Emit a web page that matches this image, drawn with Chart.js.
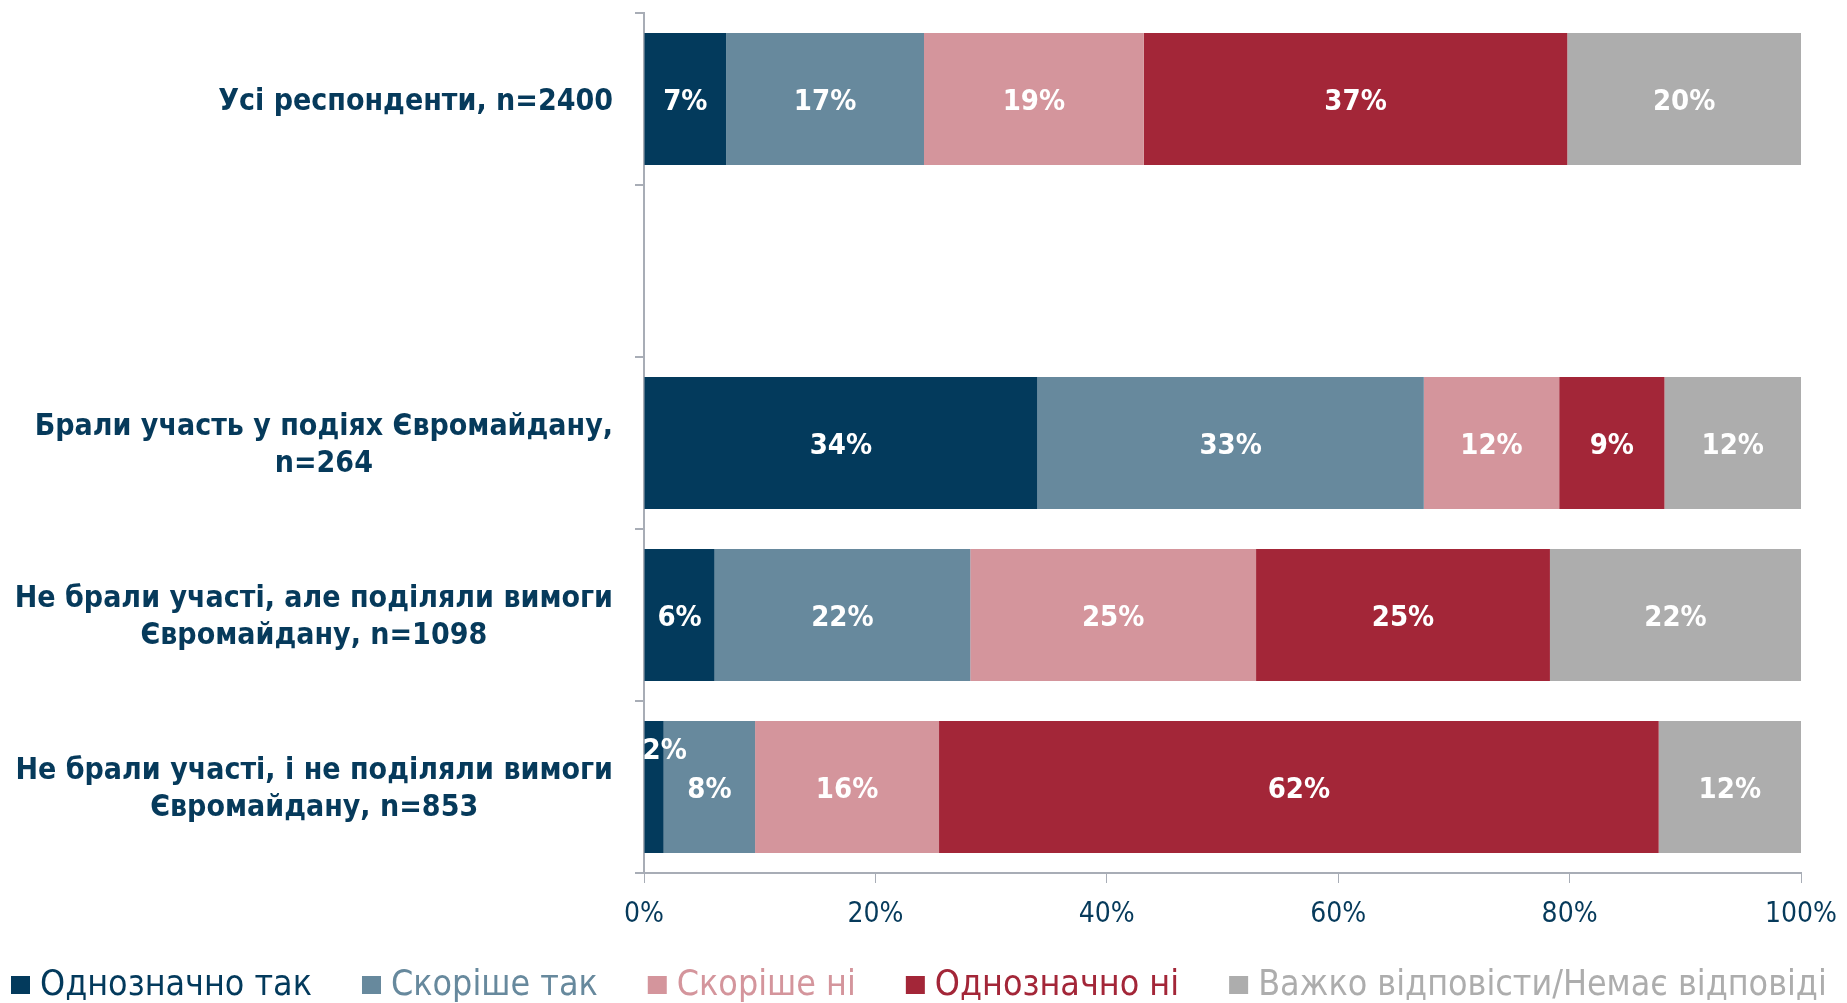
<!DOCTYPE html>
<html lang="uk">
<head>
  <meta charset="UTF-8" />
  <title>Євромайдан — стовпчикова діаграма</title>
  <script src="https://cdn.jsdelivr.net/npm/chart.js"></script>
  <style>
    body {
      margin: 0;
      background: #fff;
    }
    canvas {
      display: block;
    }
  </style>
</head>
<body>
  <canvas id="chart" width="1847" height="1003"></canvas>

  <script>
    // Categories (one empty row keeps the gap after the first bar)
    const categories = [
      ['Усі респонденти, n=2400'],
      [''],
      ['Брали участь у подіях Євромайдану,', 'n=264'],
      ['Не брали участі, але поділяли вимоги', 'Євромайдану, n=1098'],
      ['Не брали участі, і не поділяли вимоги', 'Євромайдану, n=853']
    ];

    const seriesNames = [
      'Однозначно так',
      'Скоріше так',
      'Скоріше ні',
      'Однозначно ні',
      'Важко відповісти/Немає відповіді'
    ];

    const definitelyYes = [7.1, null, 34.0, 6.1, 1.7];
    const ratherYes     = [17.1, null, 33.4, 22.1, 7.9];
    const ratherNo      = [19.0, null, 11.7, 24.7, 15.9];
    const definitelyNo  = [36.6, null, 9.1, 25.4, 62.2];
    const hardToSay     = [20.2, null, 11.8, 21.7, 12.3];

    const xTicks = [0, 20, 40, 60, 80, 100];

    const colors = ['#033a5c', '#67899d', '#d4959c', '#a32638', '#adadad'];
    const textColor = '#063a5b';
    const axisColor = '#a8adb6';

    const seriesValues = [definitelyYes, ratherYes, ratherNo, definitelyNo, hardToSay];

    // Bar value labels; a label wider than its bar goes up, starting at the bar's left edge
    const barLabels = {
      id: 'barLabels',
      afterDatasetsDraw(chart) {
        const ctx = chart.ctx;
        ctx.save();
        ctx.font = 'bold 29px "DejaVu Sans Condensed", "DejaVu Sans", sans-serif';
        ctx.fillStyle = '#fff';
        ctx.textBaseline = 'middle';
        chart.data.datasets.forEach((ds, di) => {
          const meta = chart.getDatasetMeta(di);
          meta.data.forEach((bar, i) => {
            const v = ds.data[i];
            if (v == null) return;
            const text = Math.round(v) + '%';
            const w = Math.abs(bar.x - bar.base);
            const cy = bar.y + 3;
            if (ctx.measureText(text).width > w) {
              ctx.textAlign = 'left';
              ctx.fillText(text, Math.min(bar.x, bar.base) - 2, cy - 39);
            } else {
              ctx.textAlign = 'center';
              ctx.fillText(text, (bar.x + bar.base) / 2, cy);
            }
          });
        });
        ctx.restore();
      }
    };

    // Category labels: block right-aligned to the axis, lines centred in the block
    const categoryLabels = {
      id: 'categoryLabels',
      afterDraw(chart) {
        const ctx = chart.ctx;
        const y = chart.scales.y;
        ctx.save();
        ctx.font = 'bold 30px "DejaVu Sans Condensed", "DejaVu Sans", sans-serif';
        ctx.fillStyle = textColor;
        ctx.textAlign = 'center';
        ctx.textBaseline = 'middle';
        const right = chart.chartArea.left - 31;
        const lineH = 37;
        categories.forEach((lines, i) => {
          const blockW = Math.max(...lines.map(l => ctx.measureText(l).width));
          const cy = y.getPixelForValue(i) + 3;
          const top = cy - (lines.length - 1) * lineH / 2;
          lines.forEach((l, k) => {
            ctx.fillText(l, right - blockW / 2, top + k * lineH);
          });
        });
        ctx.restore();
      }
    };

    // Legend along the bottom, one row, clipped at the canvas edge
    const bottomLegend = {
      id: 'bottomLegend',
      afterDraw(chart) {
        const ctx = chart.ctx;
        ctx.save();
        ctx.font = '35.5px "DejaVu Sans Condensed", "DejaVu Sans", sans-serif';
        ctx.textBaseline = 'middle';
        ctx.textAlign = 'left';
        let x = 11;
        const cy = 985;
        chart.data.datasets.forEach(ds => {
          ctx.fillStyle = ds.backgroundColor;
          ctx.fillRect(x, cy - 9, 19, 18);
          x += 29;
          ctx.fillText(ds.label, x, cy + 1);
          x += ctx.measureText(ds.label).width + 50;
        });
        ctx.restore();
      }
    };

    new Chart(document.getElementById('chart'), {
      type: 'bar',
      data: {
        labels: categories.map(c => c.join(' ')),
        datasets: seriesNames.map((name, i) => ({
          label: name,
          data: seriesValues[i],
          backgroundColor: colors[i],
          borderWidth: 0,
          barPercentage: 0.767,
          categoryPercentage: 1.0
        }))
      },
      options: {
        indexAxis: 'y',
        responsive: false,
        animation: false,
        layout: { padding: { top: 13, right: 46, bottom: 0, left: 0 } },
        plugins: {
          legend: { display: false },
          tooltip: { enabled: false }
        },
        scales: {
          x: {
            stacked: true,
            min: 0,
            max: 100,
            afterBuildTicks(scale) {
              scale.ticks = xTicks.map(v => ({ value: v }));
            },
            afterFit(scale) {
              scale.height = 130;
              scale.paddingLeft = 0;
              scale.paddingRight = 0;
            },
            border: { color: axisColor, width: 2 },
            grid: {
              drawOnChartArea: false,
              drawTicks: true,
              tickLength: 10,
              color: axisColor,
              lineWidth: 1
            },
            ticks: {
              padding: 15,
              color: textColor,
              font: { family: '"DejaVu Sans Condensed", "DejaVu Sans", sans-serif', size: 28 },
              callback: v => v + '%'
            }
          },
          y: {
            stacked: true,
            afterFit(scale) { scale.width = 644; },
            border: { color: axisColor, width: 2 },
            grid: {
              offset: true,
              drawOnChartArea: false,
              drawTicks: true,
              tickLength: 9,
              color: axisColor,
              lineWidth: 2
            },
            ticks: { display: false }
          }
        }
      },
      plugins: [barLabels, categoryLabels, bottomLegend]
    });
  </script>
</body>
</html>
